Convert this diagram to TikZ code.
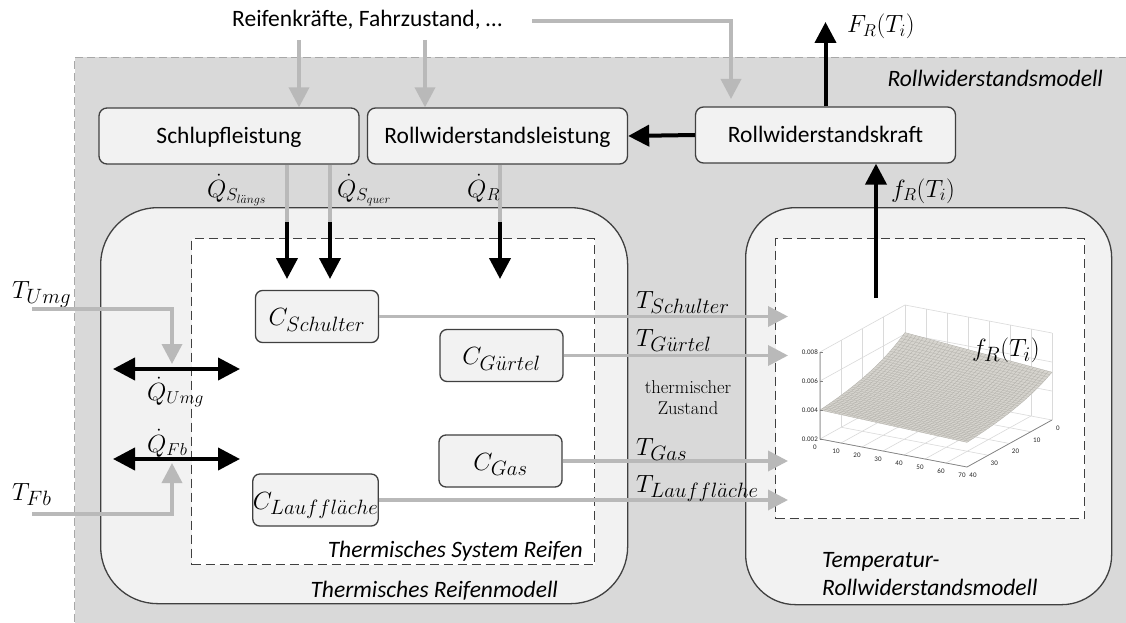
\documentclass[tikz,border=0pt]{standalone}
\usepackage{amsmath}
\usepackage{fontspec}
\newfontfamily\calibri{Carlito}
\usetikzlibrary{arrows.meta}
\DeclareMathSizes{26}{26}{20}{16}
\DeclareMathSizes{23}{23}{17}{13}

\definecolor{regionfill}{HTML}{D9D9D9}
\definecolor{regionedge}{HTML}{A8A8A8}
\definecolor{boxfill}{HTML}{F2F2F2}
\definecolor{edge}{HTML}{404040}
\definecolor{feed}{HTML}{B9B9B9}
\definecolor{meshfill}{HTML}{D6D4CE}
\definecolor{meshline}{HTML}{B2B0AA}
\definecolor{gridcol}{HTML}{DADADA}
\definecolor{axiscol}{HTML}{808080}

\begin{document}
\begin{tikzpicture}[x=1pt,y=-1pt,
  sans/.style={font=\calibri\fontsize{23.5}{29}\selectfont},
  sansit/.style={font=\calibri\itshape\fontsize{23.5}{29}\selectfont, inner sep=0pt},
  procbox/.style={draw=edge, line width=1.3pt, fill=boxfill, rounded corners=8pt,
    minimum width=260pt, minimum height=56pt, inner sep=0pt,
    text height=17.5pt, text depth=2.5pt, sans},
  cbox/.style={draw=edge, line width=1.3pt, fill=boxfill, rounded corners=7pt,
    minimum width=123pt, minimum height=52pt, inner sep=0pt,
    text height=18pt, text depth=0pt, font=\fontsize{26}{30}\selectfont},
  modelbox/.style={draw=edge, line width=1.3pt, fill=boxfill, inner sep=0pt},
  sysframe/.style={draw=edge, line width=1.4pt, fill=white, dash pattern=on 9pt off 5pt, inner sep=0pt},
  biglbl/.style={font=\fontsize{26}{30}\selectfont, inner sep=0pt},
  midlbl/.style={font=\fontsize{23}{27}\selectfont, inner sep=0pt},
  ticklbl/.style={font=\calibri\fontsize{7}{8}\selectfont, inner sep=0pt, text=black!85},
  feedline/.style={draw=feed, line width=3.6pt},
  feedarrow/.style={feedline, -{Triangle[width=20pt,length=20pt]}},
  powarrow/.style={draw=black, line width=4pt, -{Triangle[width=21pt,length=21pt]}},
  exarrow/.style={draw=black, line width=4pt,
    {Triangle[width=22pt,length=22pt]}-{Triangle[width=22pt,length=22pt]}},
  gridl/.style={draw=gridcol, line width=0.6pt},
  meshl/.style={draw=meshline, line width=0.3pt},
  declare function={
    px(\u,\v)=905+2.1*\u-2.125*\v;
    py(\u,\v,\w)=392+0.4*\u+1.175*\v-\w;
    fh(\u,\v)=24.2-0.0456*\u+(35.2-0.12*\u)*exp(-\v/20);
  }]

\useasboundingbox (0,0) rectangle (1126,623);
\clip (0,0) rectangle (1126,623);

% overall rolling resistance model area
\node[fill=regionfill, draw=regionedge, line width=1pt, dash pattern=on 8pt off 4pt,
      anchor=north west, minimum width=1090pt, minimum height=600pt, inner sep=0pt]
      (rwm) at (74,57) {};
\node[sansit, anchor=base east] (rwmlbl) at (1103,87) {Rollwiderstandsmodell};

% external inputs
\node[sans, anchor=base west, inner sep=0pt] (inputs) at (232,27) {Reifenkräfte, Fahrzustand, …};

% power / force blocks
\node[procbox] (sl) at (229,136) {Schlupfleistung};
\node[procbox] (rl) at (497.5,136) {Rollwiderstandsleistung};
\node[procbox] (rk) at (825.5,135) {Rollwiderstandskraft};

% thermal tyre model
\node[modelbox, rounded corners=57pt, anchor=north west, minimum width=527pt, minimum height=396pt]
      (trm) at (100,207) {};
\node[sysframe, anchor=north west, minimum width=403pt, minimum height=326pt]
      (tsr) at (191,238) {};
\node[sansit, anchor=base east] (tsrlbl) at (583,557) {Thermisches System Reifen};
\node[sansit, anchor=base east] (trmlbl) at (558,597) {Thermisches Reifenmodell};

% temperature dependent rolling resistance model
\node[modelbox, rounded corners=50pt, anchor=north west, minimum width=366pt, minimum height=397pt]
      (trw) at (745,207) {};
\node[sysframe, anchor=north west, minimum width=309pt, minimum height=280pt]
      (plotframe) at (775,238) {};
\node[sansit, anchor=base west] (trwlbl1) at (822,567) {Temperatur-};
\node[sansit, anchor=base west] (trwlbl2) at (822,595) {Rollwiderstandsmodell};

% heat capacities
\node[cbox] (cs)  at (317,316.5) {$C_{Schulter}$};
\node[cbox] (cg)  at (501.5,355.5) {$C_{G\ddot{u}rtel}$};
\node[cbox] (cga) at (500.5,461) {$C_{Gas}$};
\node[cbox] (cl)  at (315.5,500) {$C_{Lauffl\ddot{a}che}$};

% characteristic map f_R(T_i)
\foreach \u in {0,10,...,70}
  \draw[gridl] ({px(\u,0)},{py(\u,0,0)}) -- ({px(\u,0)},{py(\u,0,87)});
\foreach \v in {0,10,...,40}
  \draw[gridl] ({px(0,\v)},{py(0,\v,0)}) -- ({px(0,\v)},{py(0,\v,87)});
\foreach \w in {29,58,87} {
  \draw[gridl] ({px(0,0)},{py(0,0,\w)}) -- ({px(70,0)},{py(70,0,\w)});
  \draw[gridl] ({px(0,0)},{py(0,0,\w)}) -- ({px(0,40)},{py(0,40,\w)});
}
\foreach \u in {0,10,...,70}
  \draw[gridl] ({px(\u,0)},{py(\u,0,0)}) -- ({px(\u,40)},{py(\u,40,0)});
\foreach \v in {0,10,...,40}
  \draw[gridl] ({px(0,\v)},{py(0,\v,0)}) -- ({px(70,\v)},{py(70,\v,0)});

\fill[meshfill]
  plot[domain=0:70,samples=30] ({px(\x,0)},{py(\x,0,fh(\x,0))})
  -- plot[domain=0:40,samples=20] ({px(70,\x)},{py(70,\x,fh(70,\x))})
  -- plot[domain=70:0,samples=30] ({px(\x,40)},{py(\x,40,fh(\x,40))})
  -- plot[domain=40:0,samples=20] ({px(0,\x)},{py(0,\x,fh(0,\x))})
  -- cycle;
\foreach \v in {0,1,...,40}
  \draw[meshl] plot[domain=0:70,samples=12,smooth] ({px(\x,\v)},{py(\x,\v,fh(\x,\v))});
\foreach \i in {0,1,...,40}
  \draw[meshl] plot[domain=0:40,samples=12,smooth] ({px(\i*1.75,\x)},{py(\i*1.75,\x,fh(\i*1.75,\x))});

\draw[axiscol, line width=0.7pt]
  ({px(0,40)},{py(0,40,87)}) -- ({px(0,40)},{py(0,40,0)})
  -- ({px(70,40)},{py(70,40,0)}) -- ({px(70,0)},{py(70,0,0)});
\foreach \w/\t in {0/0.002,29/0.004,58/0.006,87/0.008} {
  \draw[axiscol, line width=0.6pt] ({px(0,40)},{py(0,40,\w)}) -- ++(2.5,0);
  \node[ticklbl, anchor=east] at ({px(0,40)-2},{py(0,40,\w)}) {\t};
}
\foreach \u in {0,10,...,70}
  \node[ticklbl] at ({px(\u,40)-5},{py(\u,40,0)+8}) {\u};
\foreach \v in {0,10,...,40}
  \node[ticklbl] at ({px(70,\v)+6},{py(70,\v,0)+8}) {\v};
\node[biglbl, anchor=base west] (maplbl) at (972,356) {$f_R(T_i)$};

% inputs to the power blocks
\coordinate (in1) at (299,40);
\coordinate (in2) at (425,40);
\coordinate (in3) at (532,21);
\coordinate (in3end) at (731,99);
\draw[feedarrow] (in1) -- (in1 |- sl.north);
\draw[feedarrow] (in2) -- (in2 |- rl.north);
\draw[feedarrow] (in3) -| (in3end);

% force path
\coordinate (frout) at (825.5,22);
\coordinate (mapout) at (876,298);
\draw[powarrow] (rk.west) -- (rl.east);
\draw[powarrow] (rk.north) -- (frout);
\draw[powarrow] (mapout) -- (mapout |- rk.south);
\node[midlbl, anchor=base west] (frlbl) at (847,33) {$F_R(T_i)$};
\node[midlbl, anchor=base west] (fmlbl) at (891,197) {$f_R(T_i)$};

% heat flows into the tyre
\coordinate (qsl) at (287,222);
\coordinate (qsq) at (330,222);
\coordinate (qr)  at (500,222);
\coordinate (qslend) at (287,279);
\coordinate (qsqend) at (330,279);
\coordinate (qrend)  at (500,279);
\draw[feedline] (qsl |- sl.south) -- (qsl);
\draw[feedline] (qsq |- sl.south) -- (qsq);
\draw[feedline] (qr |- rl.south) -- (qr);
\draw[powarrow] (qsl) -- (qslend);
\draw[powarrow] (qsq) -- (qsqend);
\draw[powarrow] (qr) -- (qrend);
\node[midlbl, anchor=base west] (qsllbl) at (207,197) {$\dot{Q}_{S_{l\ddot{a}ngs}}$};
\node[midlbl, anchor=base west] (qsqlbl) at (337,197) {$\dot{Q}_{S_{quer}}$};
\node[midlbl, anchor=base west] (qrlbl)  at (467,197) {$\dot{Q}_R$};

% heat exchange with surroundings and road
\coordinate (umgl) at (113,369);
\coordinate (umgr) at (240,369);
\coordinate (fbl)  at (113,459);
\coordinate (fbr)  at (240,459);
\draw[exarrow] (umgl) -- (umgr);
\draw[exarrow] (fbl) -- (fbr);
\node[midlbl, anchor=base west] (qumg) at (147,400) {$\dot{Q}_{Umg}$};
\node[midlbl, anchor=base west] (qfb)  at (147,452) {$\dot{Q}_{Fb}$};
\node[biglbl, anchor=base west] (tumg) at (12,298) {$T_{Umg}$};
\node[biglbl, anchor=base west] (tfb)  at (12,500) {$T_{Fb}$};
\coordinate (tumgstart) at (32,309);
\coordinate (tumgend)   at (172,364);
\coordinate (tfbstart)  at (32,514);
\coordinate (tfbend)    at (172,463);
\draw[feedarrow] (tumgstart) -| (tumgend);
\draw[feedarrow] (tfbstart) -| (tfbend);

% thermal state handed to the map
\coordinate (mapin) at (788,0);
\draw[feedarrow] (cs.east)  -- (cs.east -| mapin);
\draw[feedarrow] (cg.east)  -- (cg.east -| mapin);
\draw[feedarrow] (cga.east) -- (cga.east -| mapin);
\draw[feedarrow] (cl.east)  -- (cl.east -| mapin);
\node[biglbl, anchor=base west] (tslbl) at (636,308) {$T_{Schulter}$};
\node[biglbl, anchor=base west] (tglbl) at (636,346) {$T_{G\ddot{u}rtel}$};
\node[biglbl, anchor=base west] (tgalbl) at (636,455) {$T_{Gas}$};
\node[biglbl, anchor=base west] (tllbl) at (636,492) {$T_{Lauffl\ddot{a}che}$};
\node[font=\fontsize{18.5}{21}\selectfont, align=center, inner sep=0pt] (state) at (688,398)
  {thermischer\\Zustand};

\end{tikzpicture}
\end{document}
